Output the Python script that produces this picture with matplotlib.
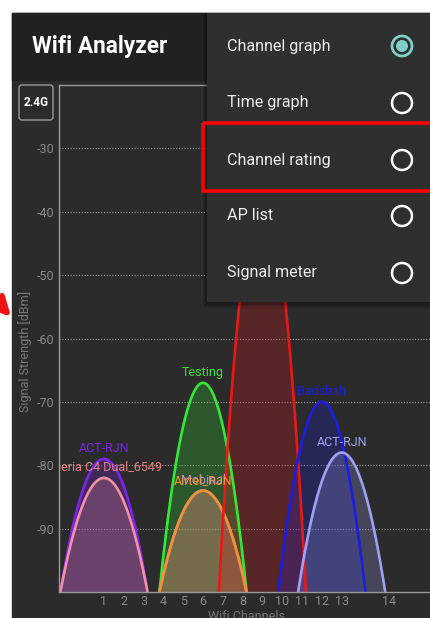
import matplotlib
matplotlib.use('Agg')
import matplotlib.pyplot as plt
import numpy as np
from matplotlib.patches import Rectangle, FancyBboxPatch, Circle
from matplotlib.transforms import offset_copy

# ---- data ----
ssids = ['ACT-RJN', 'Xperia C4 Dual_6549', 'Testing', 'Mobinal', 'Airtel_RJN', '', 'Badshah', 'ACT-RJN']
channels = [1, 1, 6, 6, 6, 9, 12, 13]
levels = [-79, -82, -67, -84, -84, -37, -70, -78]
colors = ['#7b25e8', '#f48fa8', '#35e835', '#b57fd0', '#f39230', '#e81818', '#1d1de0', '#a0a0f2']
label_colors = ['#7b25e8', '#e88080', '#35e835', '#c08ad8', '#f39230', '#e81818', '#1d1de0', '#a0a0f2']
tick_channels = list(range(1, 15))
ytick_values = [-30, -40, -50, -60, -70, -80, -90]
menu_items = ['Channel graph', 'Time graph', 'Channel rating', 'AP list', 'Signal meter']
menu_selected = 0

W, H = 430, 618
fig = plt.figure(figsize=(4.3, 6.18), dpi=100, facecolor='white')

# ---- background UI ----
bg = fig.add_axes([0, 0, 1, 1])
bg.set_xlim(0, W); bg.set_ylim(H, 0); bg.axis('off')
bg.add_patch(Rectangle((12, 13), W - 12, H - 13, color='#2b2b2b'))
bg.add_patch(Rectangle((12, 13), W - 12, 67, color='#212121'))
bg.text(32, 47, 'Wifi Analyzer', color='white', fontsize=16.3, fontweight='bold',
        family='Roboto', va='center', ha='left')
bg.add_patch(FancyBboxPatch((19, 85), 34, 35, boxstyle='round,pad=0,rounding_size=3',
                            fc='none', ec='#9a9a9a', lw=1))
bg.text(36, 103, '2.4G', color='white', fontsize=8.5, fontweight='bold', family='Roboto',
        ha='center', va='center')
bg.text(25, 351, 'Signal Strength [dBm]', color='#7a7a7a', fontsize=9, family='Roboto',
        rotation=90, ha='center', va='center')
bg.text(246, 617, 'Wifi Channels', color='#7a7a7a', fontsize=9, family='Roboto',
        ha='center', va='center')
bg.annotate('', xy=(13, 319), xytext=(-14, 290),
            arrowprops=dict(arrowstyle='-|>', color='#ee1111', lw=4, mutation_scale=28))


def px(x0, y0, x1, y1):
    return [x0 / W, 1 - y1 / H, (x1 - x0) / W, (y1 - y0) / H]


# ---- chart ----
ax = fig.add_axes(px(59, 85, 430, 592))
ax.set_facecolor('#2b2b2b')


def chan_x(c):
    freq = 2484 if c == 14 else 2407 + 5 * c
    return (freq - 2407) / 5.0


ax.set_xlim(-1.27, 17.46)
ax.set_ylim(-100, -20)
for y in ytick_values:
    ax.axhline(y, color='#9a9a9a', lw=0.8, ls=(0, (1, 1.5)), zorder=0)

hw = 2.2
lbl_tr = offset_copy(ax.transData, fig=fig, y=10, units='dots')
for s, c, lv, col, lcol in zip(ssids, channels, levels, colors, label_colors):
    cx = chan_x(c)
    xs = np.linspace(cx - hw, cx + hw, 300)
    ys = -100 + (lv + 100) * (1 - ((xs - cx) / hw) ** 2)
    ax.fill_between(xs, -100, ys, color=col, alpha=0.24, lw=0)
    ax.plot(xs, ys, color=col, lw=1.9, solid_capstyle='butt')
    if s:
        ax.text(cx, lv, s, transform=lbl_tr, color=lcol, fontsize=9, family='Roboto',
                ha='center', va='center', clip_on=True)

ax.set_xticks([chan_x(c) for c in tick_channels])
ax.set_xticklabels([str(c) for c in tick_channels])
ax.set_yticks(ytick_values)
ax.set_yticklabels([str(v) for v in ytick_values])
ax.tick_params(axis='both', length=0, colors='#8a8a8a', labelsize=9)
ax.tick_params(axis='x', pad=2)
ax.tick_params(axis='y', pad=3)
for lab in ax.get_xticklabels() + ax.get_yticklabels():
    lab.set_family('Roboto')
for side in ['left', 'top', 'bottom']:
    ax.spines[side].set_color('#9a9a9a')
    ax.spines[side].set_linewidth(1)
ax.spines['right'].set_visible(False)

# ---- popup menu ----
mn = fig.add_axes([0, 0, 1, 1], zorder=10)
mn.set_xlim(0, W); mn.set_ylim(H, 0); mn.axis('off')
mn.patch.set_alpha(0)
for i, a in enumerate([0.18, 0.12, 0.06]):
    mn.add_patch(Rectangle((207 - 2 - i, 13), W, 289 + 3 + i * 2, color='black', alpha=a, lw=0))
mn.add_patch(Rectangle((207, 13), W - 207, 289, color='#2f2f2f', lw=0))
item_y = [46, 103, 160, 216, 273]
for i, (t, yy) in enumerate(zip(menu_items, item_y)):
    mn.text(227, yy, t, color='#ececec', fontsize=11.6, family='Roboto', ha='left', va='center')
    if i == menu_selected:
        mn.add_patch(Circle((402, yy), 10, fc='none', ec='#7fcfca', lw=2))
        mn.add_patch(Circle((402, yy), 6, fc='#7fcfca', ec='none'))
    else:
        mn.add_patch(Circle((402, yy), 10, fc='none', ec='white', lw=1.8))
mn.add_patch(Rectangle((203, 123), 240, 68, fc='none', ec='#ff0000', lw=2.6))

fig.savefig('out.png', dpi=100, facecolor='white')
